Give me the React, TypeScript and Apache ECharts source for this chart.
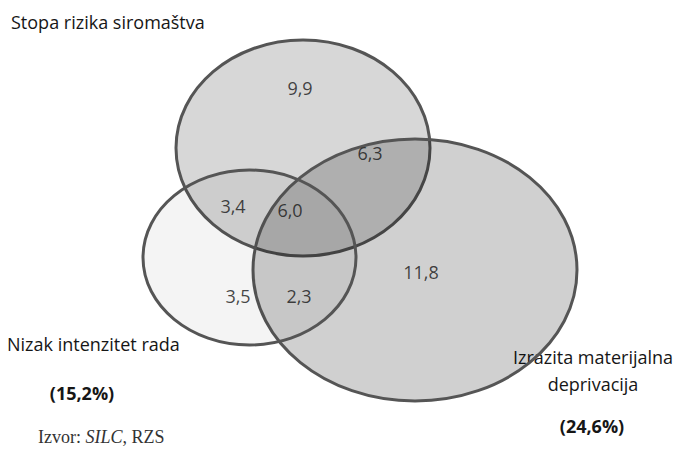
import React, { useEffect, useRef } from "react";
import * as echarts from "echarts";

// Sets (Venn circles) and their totals
const setNames = ["Stopa rizika siromaštva", "Izrazita materijalna deprivacija", "Nizak intenzitet rada"];
const setTotals = ["", "(24,6%)", "(15,2%)"];
// Region values
const regionNames = ["Samo rizik siromaštva", "Siromaštvo + deprivacija", "Siromaštvo + nizak intenzitet", "Sve tri", "Samo deprivacija", "Samo nizak intenzitet", "Nizak intenzitet + deprivacija"];
const regionValues = ["9,9", "6,3", "3,4", "6,0", "11,8", "3,5", "2,3"];

// Layout (pixel-like data space, 677 x 452)
const ellipseLayout = [
  [303, 148, 127, 108, 0.155],
  [415, 270, 162, 131, 0.185],
  [249.5, 257.5, 106.5, 87.5, 0.045],
];
const regionPos = [
  [300, 88],
  [370, 153],
  [233, 206],
  [290, 210],
  [421, 272],
  [238, 296],
  [299, 296],
];

export default function App() {
  const ref = useRef<HTMLDivElement>(null);
  useEffect(() => {
    if (!ref.current) return;
    const chart = echarts.init(ref.current, null, { renderer: "svg" });
    const font = "'Open Sans', sans-serif";
    const fs = 18;
    const col = "#161616";
    chart.setOption({
      animation: false,
      backgroundColor: "#ffffff",
      grid: { left: 0, right: 0, top: 0, bottom: 0 },
      xAxis: { type: "value", min: 0, max: 677, show: false },
      yAxis: { type: "value", min: 0, max: 452, inverse: true, show: false },
      series: [
        {
          type: "custom",
          data: ellipseLayout.map((e, i) => ({ name: setNames[i], value: e })),
          renderItem: (params: any, api: any) => {
            const c = api.coord([api.value(0), api.value(1)]);
            const o = api.coord([0, 0]);
            const r = api.coord([api.value(2), api.value(3)]);
            return {
              type: "ellipse",
              shape: { cx: c[0], cy: c[1], rx: Math.abs(r[0] - o[0]), ry: Math.abs(r[1] - o[1]) },
              style: { fill: `rgba(0,0,0,${api.value(4)})`, stroke: "#555555", lineWidth: 3 },
            };
          },
          silent: true,
          z: 1,
        },
        {
          type: "scatter",
          symbolSize: 0,
          z: 5,
          data: regionValues.map((v, i) => ({ name: regionNames[i], value: [regionPos[i][0], regionPos[i][1]], label: { formatter: v } })),
          label: {
            show: true,
            position: "inside",
            color: col,
            fontSize: fs,
            fontFamily: font,
          },
          silent: true,
        },
      ],
      graphic: [
        { type: "text", x: 11, y: 22, style: { text: setNames[0], fontSize: fs, fontFamily: font, fill: col, verticalAlign: "middle" } },
        { type: "text", x: 7, y: 344, style: { text: setNames[2], fontSize: fs, fontFamily: font, fill: col, verticalAlign: "middle" } },
        { type: "text", x: 82, y: 393, style: { text: setTotals[2], fontSize: fs, fontWeight: "bold", fontFamily: font, fill: col, align: "center", verticalAlign: "middle" } },
        { type: "text", x: 593, y: 357, style: { text: "Izrazita materijalna", fontSize: fs, fontFamily: font, fill: col, align: "center", verticalAlign: "middle" } },
        { type: "text", x: 593, y: 384, style: { text: "deprivacija", fontSize: fs, fontFamily: font, fill: col, align: "center", verticalAlign: "middle" } },
        { type: "text", x: 592, y: 426, style: { text: setTotals[1], fontSize: fs, fontWeight: "bold", fontFamily: font, fill: col, align: "center", verticalAlign: "middle" } },
        {
          type: "text",
          x: 38,
          y: 437,
          style: {
            text: "{a|Izvor: }{b|SILC}{a|, RZS}",
            verticalAlign: "middle",
            rich: {
              a: { fontSize: 18, fontFamily: "'Liberation Serif', serif", fill: "#333" },
              b: { fontSize: 18, fontFamily: "'Liberation Serif', serif", fontStyle: "italic", fill: "#333" },
            },
          },
        },
      ],
    });
    return () => chart.dispose();
  }, []);
  return <div ref={ref} style={{ position: "fixed", left: 0, top: 0, width: 677, height: 452 }} />;
}
